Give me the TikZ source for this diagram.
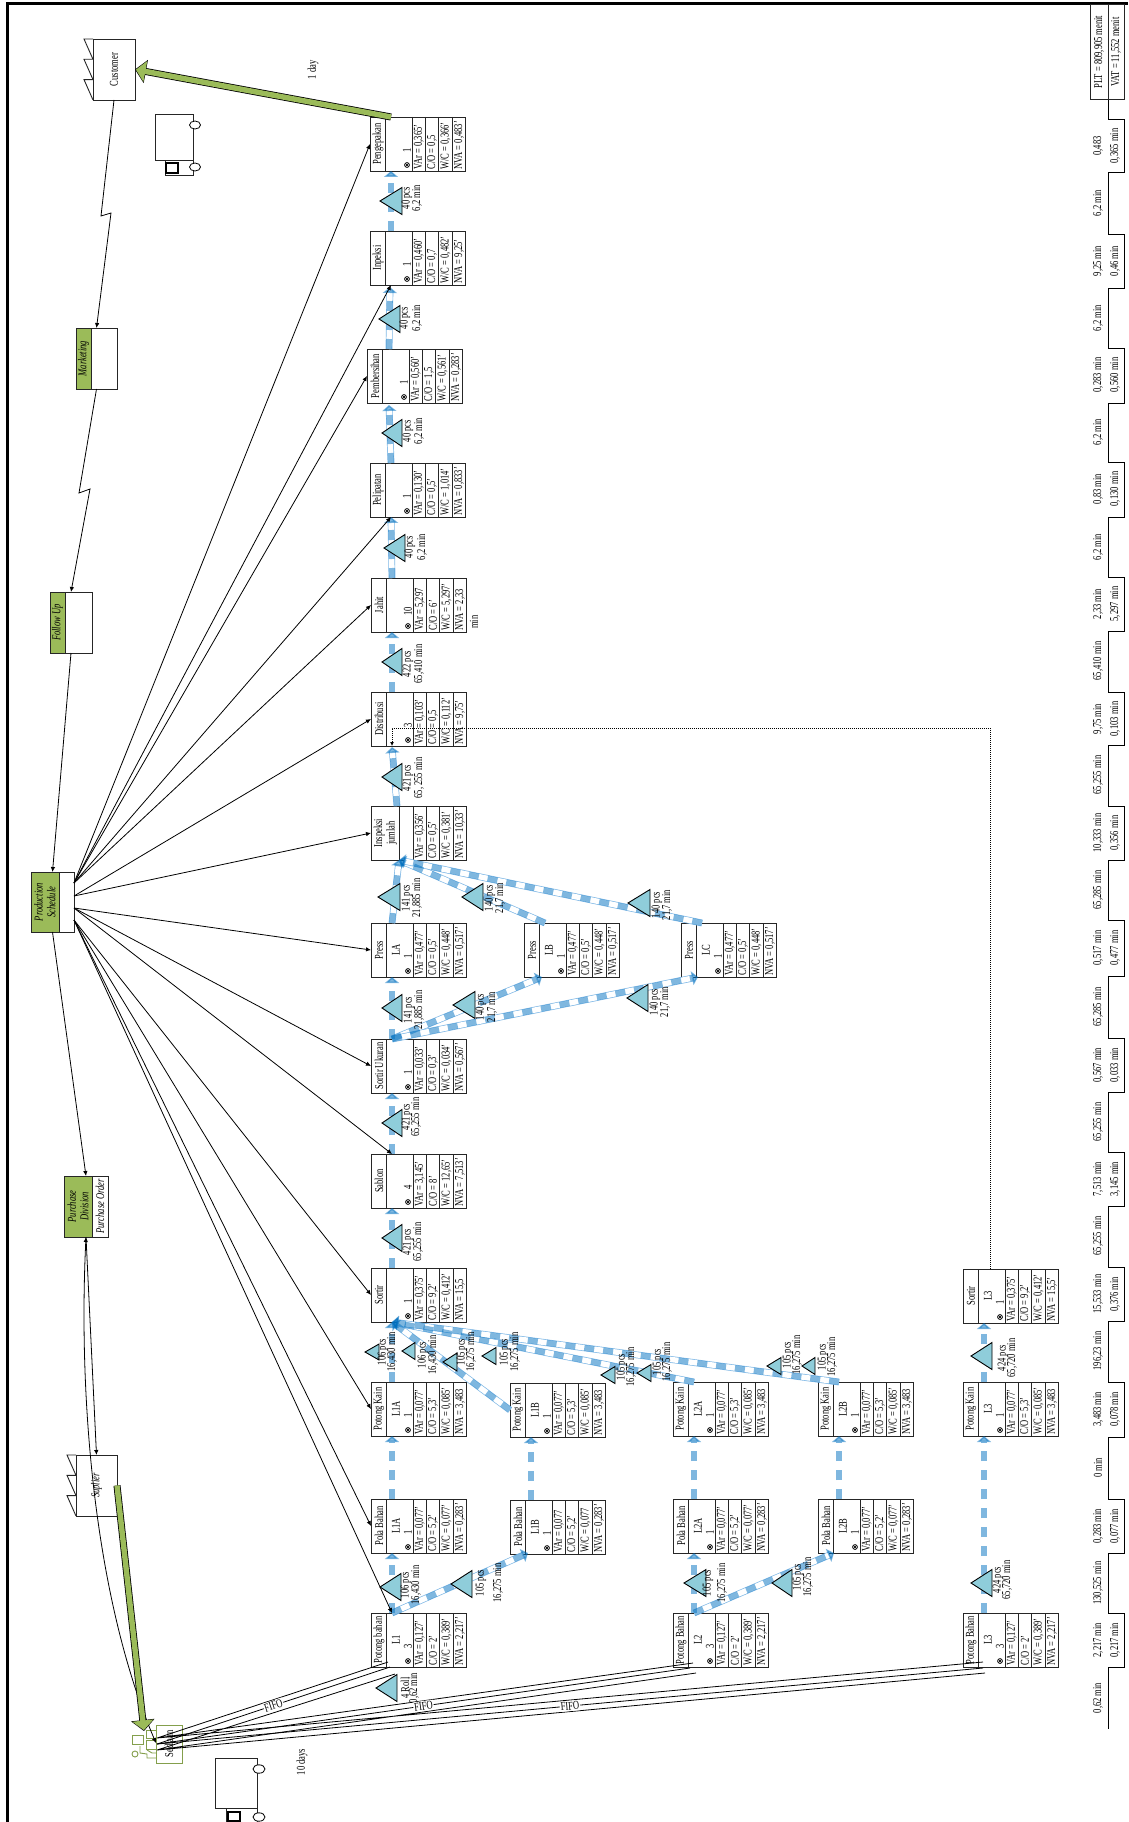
\documentclass[tikz,border=0pt]{standalone}
\usepackage{fontspec}
\setmainfont[FakeStretch=0.71]{Liberation Serif}
\usetikzlibrary{arrows.meta}
\definecolor{vsmgreen}{HTML}{9BBB59}
\definecolor{invfill}{HTML}{8FCDDA}
\definecolor{pushblue}{HTML}{0070C0}
\definecolor{pushedgec}{HTML}{7FB8E6}
\newcommand\fs{\fontsize{12}{12.7}\selectfont}
\newcount\lblc
\tikzset{
  every node/.style={font=\fs,inner sep=0pt,outer sep=0pt},
  rtext/.style={rotate=90,align=center},
  ltext/.style={rotate=90,anchor=west},
  boxline/.style={line width=0.9pt,draw=black!85},
  procshape/.style={boxline,fill=white,minimum width=95pt,minimum height=54pt},
  ctl/.style={line width=0.8pt,-{Latex[length=5pt,width=4.5pt]}},
  plain/.style={line width=0.8pt},
  invtri/.style={draw=black,line width=0.9pt,fill=invfill,line join=miter},
  pushedge/.style={line width=0.7pt,draw=pushedgec,double=white,double distance=5.4pt,shorten >=5pt},
  pushdash/.style={line width=6pt,color=pushblue,opacity=0.5,dash pattern=on 10pt off 9pt,-{Triangle[length=6pt,width=14pt]}},
  greenout/.style={line width=7pt,black,-{Triangle[length=11pt,width=23pt]}},
  greenin/.style={line width=5.4pt,vsmgreen,shorten >=0.9pt,-{Triangle[length=9.6pt,width=20.6pt]}},
  infowhite/.style={boxline,fill=white},
  infogreen/.style={boxline,fill=vsmgreen},
  factory/.style={boxline,fill=white},
  fifo/.style={sloped,fill=white,inner sep=1pt},
  sedline/.style={draw=vsmgreen!85!black,line width=0.9pt},
}
% optional: title width; name x y title name2 count
\newcommand\procbox[7][15]{%
  \begin{scope}[shift={(#3,#4)}]
  \node[procshape,name=#2] at (47.5,27) {};
  \coordinate (#2-t) at (21,0);
  \coordinate (#2-b) at (21,54);
  \coordinate (#2-l) at (0,27);
  \draw[boxline] (#1,0)--(#1,54) (42,0)--(42,54) (55,0)--(55,54) (68.5,0)--(68.5,54) (82,0)--(82,54);
  \node[rtext,name=#2-title] at ({#1/2+0.5},27) {#5};
  \node[rtext,name=#2-name] at (25,27) {#6};
  \if\relax\detokenize{#7}\relax\else
    \node[rtext,name=#2-count] at (37,33) {#7};
    \draw[line width=0.8pt] (37,48) circle (2.4pt);
    \fill (37,48) circle (1.3pt);
  \fi
  \def\curbox{#2}}
\newcommand\cells[4]{%
  \node[ltext,name=\curbox-var] at (48.8,52.5) {#1};
  \node[ltext,name=\curbox-co] at (62,52.5) {#2};
  \node[ltext,name=\curbox-wc] at (75.5,52.5) {#3};
  \node[ltext,name=\curbox-nva] at (89,52.5) {#4};
  \end{scope}}
% apex base cy half  x1 x2 ly text1 text2
\newcommand\inv[9]{%
  \draw[invtri] (#1,#3)--(#2,#3-#4)--(#2,#3+#4)--cycle;
  \global\advance\lblc by 1
  \node[rtext,name=il\the\lblc a] at (#5,#7) {#8};
  \node[rtext,name=il\the\lblc b] at (#6,#7) {#9};}
\newcommand\tu[2]{\global\advance\lblc by 1 \node[rtext,name=tu\the\lblc] at (1098,#1) {#2};}
\newcommand\tl[2]{\global\advance\lblc by 1 \node[rtext,name=tl\the\lblc] at (1115,#1) {#2};}
\newcommand\teeth[3]{% x(box left) ytop  depth
  \draw[boxline] (#1,#2) -- ++(-#3,0) -- ++(#3,20.3) -- ++(-#3,0) -- ++(#3,20.3) -- ++(-#3,0) -- ++(#3,20.4);}
\begin{document}
\begin{tikzpicture}[x=1pt,y=-1pt]
\useasboundingbox (0,0) rectangle (1128,1822);
\fill[white] (0,0) rectangle (1128,1822);
% frame
\draw[line width=3pt,black] (7,1822)--(7,4)--(1128,4);

% process boxes
\procbox{peng}{370}{117}{Pengepakan}{}{1}\cells{VAr = 0,365'}{C/O = 0,5}{W/C = 0,366'}{NVA = 0,483'}
\procbox{insp}{370}{231}{Inpeksi}{}{1}\cells{VAr = 0,460'}{C/O = 0,7}{W/C = 0,482'}{NVA = 9,25'}
\procbox{pemb}{367}{349}{Pembersihan}{}{1}\cells{VAr = 0,560'}{C/O = 1,5}{W/C = 0,561'}{NVA = 0,283'}
\procbox{peli}{370}{463}{Pelipatan}{}{1}\cells{VAr = 0,130'}{C/O = 0,5'}{W/C = 1,014'}{NVA = 0,833'}
\procbox{jahit}{371}{578}{Jahit}{}{10}\cells{VAr = 5,297}{C/O = 6'}{W/C = 5,297'}{NVA = 2,33}
\node[rtext,name=jahitmin] at (474,622) {min};
\procbox{dist}{371}{692}{Distribusi}{}{3}\cells{VAr = 0,103'}{C/O = 0,5}{W/C = 0,112'}{NVA = 9,75'}
\procbox[28]{ijum}{371}{806}{Inspeksi\\jumlah}{}{}\cells{VAr = 0,356'}{C/O = 0,5'}{W/C = 0,381'}{NVA = 10,33'}
\procbox{pla}{371}{923}{Press}{LA}{1}\cells{VAr = 0,477'}{C/O = 0,5'}{W/C = 0,448'}{NVA = 0,517'}
\procbox{plb}{524}{923}{Press}{LB}{1}\cells{VAr = 0,477'}{C/O = 0,5'}{W/C = 0,448'}{NVA = 0,517'}
\procbox{plc}{681}{923}{Press}{LC}{1}\cells{VAr = 0,477'}{C/O = 0,5'}{W/C = 0,448'}{NVA = 0,517'}
\procbox{suk}{371}{1039}{Sortir Ukuran}{}{1}\cells{VAr = 0,033'}{C/O = 0,3'}{W/C = 0,034'}{NVA = 0,567'}
\procbox{sab}{371}{1154}{Sablon}{}{4}\cells{VAr = 3,145'}{C/O = 8'}{W/C = 12,65'}{NVA = 7,513'}
\procbox{sor}{371}{1268}{Sortir}{}{1}\cells{VAr = 0,375'}{C/O = 9,2'}{W/C = 0,412'}{NVA = 15,5}
\procbox{kla}{371}{1382}{Potong Kain}{L1A}{1}\cells{VAr = 0,077'}{C/O = 5,3'}{W/C = 0,085'}{NVA = 3,483}
\procbox{kl1b}{510}{1383}{Potong Kain}{L1B}{1}\cells{VAr = 0,077'}{C/O = 5,3'}{W/C = 0,085'}{NVA = 3,483}
\procbox{kl2a}{673}{1382}{Potong Kain}{L2A}{1}\cells{VAr = 0,077'}{C/O = 5,3'}{W/C = 0,085'}{NVA = 3,483}
\procbox{kl2b}{818}{1382}{Potong Kain}{L2B}{1}\cells{VAr = 0,077'}{C/O = 5,3'}{W/C = 0,085'}{NVA = 3,483}
\procbox{kl3}{963}{1382}{Potong Kain}{L3}{1}\cells{VAr = 0,077'}{C/O = 5,3'}{W/C = 0,085'}{NVA = 3,483}
\procbox{pla1}{371}{1499}{Pola Bahan}{L1A}{1}\cells{VAr = 0,077'}{C/O = 5,2'}{W/C = 0,077'}{NVA = 0,283'}
\procbox{pl1b}{510}{1500}{Pola Bahan}{L1B}{1}\cells{VAr = 0,077}{C/O = 5,2'}{W/C = 0,077}{NVA = 0,283'}
\procbox{pl2a}{673}{1499}{Pola Bahan}{L2A}{1}\cells{VAr = 0,077'}{C/O = 5,2'}{W/C = 0,077'}{NVA = 0,283'}
\procbox{pl2b}{818}{1499}{Pola Bahan}{L2B}{1}\cells{VAr = 0,077'}{C/O = 5,2'}{W/C = 0,077'}{NVA = 0,283'}
\procbox{bl1}{371}{1613}{Potong bahan}{L1}{3}\cells{VAr = 0,127'}{C/O = 2'}{W/C = 0,389'}{NVA = 2,217'}
\procbox{bl2}{673}{1613}{Potong Bahan}{L2}{3}\cells{VAr = 0,127'}{C/O = 2'}{W/C = 0,389'}{NVA = 2,217'}
\procbox{bl3}{963}{1613}{Potong Bahan}{L3}{3}\cells{VAr = 0,127'}{C/O = 2'}{W/C = 0,389'}{NVA = 2,217'}
\procbox{sl3}{963}{1269}{Sortir}{L3}{1}\cells{VAr = 0,375'}{C/O = 9,2'}{W/C = 0,412'}{NVA = 15,5'}

% extra connector ends
\coordinate (in-l1b) at (528,1553);
\coordinate (in-l2b) at (834,1553);
\coordinate (in-lb) at (542,977);
\coordinate (in-lc) at (698,977);
\coordinate (ijin) at (399,860);
\coordinate (ijout) at (397,806);
\coordinate (distin) at (392,747);
\coordinate (pembin) at (389,405);
\coordinate (inpin) at (390,287);
\coordinate (pembout) at (389,349);

% push arrows
\def\pushlist{bl1-t/pla1-b,bl1-t/in-l1b,pla1-t/kla-b,pl1b-t/kl1b-b,kla-t/sor-b,kl1b-l/sor-b,kl2a-t/sor-b,kl2b-t/sor-b,bl2-t/pl2a-b,bl2-t/in-l2b,pl2a-t/kl2a-b,pl2b-t/kl2b-b,bl3-t/kl3-b,kl3-t/sl3-b,sor-t/sab-b,sab-t/suk-b,suk-t/pla-b,suk-t/in-lb,suk-t/in-lc,pla-t/ijin,plb-t/ijin,plc-t/ijin,ijout/distin,dist-t/jahit-b,jahit-t/peli-b,peli-t/pembin,pembout/inpin,insp-t/peng-b}
\foreach \a/\b in \pushlist {\draw[pushedge] (\a)--(\b);}
\foreach \a/\b in \pushlist {\draw[pushdash] (\a)--(\b);}

% inventory triangles and labels
\inv{365}{379}{1352}{8}{383}{392}{1352}{106 pcs}{16,430 min}
\inv{402}{415}{1351}{8.5}{423}{433}{1355}{106 pcs}{16,430 min}
\inv{443}{457}{1362}{9}{462}{471}{1352}{105 pcs}{16,275 min}
\inv{482}{496}{1356}{8.5}{505}{515}{1352}{105 pcs}{16,275 min}
\inv{601}{615}{1375}{8.5}{622}{631}{1367}{105 pcs}{16,275 min}
\inv{637}{651}{1373}{8.5}{658}{667}{1362}{105 pcs}{16,275 min}
\inv{767}{781}{1366}{8.5}{788}{797}{1355}{105 pcs}{16,275 min}
\inv{802}{815}{1366}{8.5}{823}{832}{1357}{105 pcs}{16,275 min}
\inv{380}{401}{1587}{13.5}{406}{416}{1585}{106 pcs}{16,430 min}
\inv{451}{472}{1584}{13.5}{481}{498}{1583}{105 pcs}{16,275 min}
\inv{376}{397}{1688}{13.5}{405}{414}{1688}{4 Roll}{0,62 min}
\inv{684}{706}{1583}{13.5}{708}{722}{1583}{105 pcs}{16,275 min}
\inv{772}{792}{1583}{13.5}{798}{808}{1577}{105 pcs}{16,275 min}
\inv{971}{992}{1356}{13.5}{1003}{1012}{1358}{424 pcs}{65,720 min}
\inv{971}{992}{1583}{13.5}{998}{1007}{1580}{424 pcs}{65,720 min}
\inv{382}{402}{1238}{13.5}{408}{418}{1242}{421 pcs}{65,255 min}
\inv{382}{402}{1123}{13.5}{407}{416}{1117}{421 pcs}{65,255 min}
\inv{382}{402}{1008}{13.5}{409}{419}{1010}{141 pcs}{21,885 min}
\inv{453}{475}{1005}{13.5}{481}{492}{1007}{140 pcs}{21,7 min}
\inv{627}{648}{998}{13.5}{655}{665}{1002}{140 pcs}{21,7 min}
\inv{378}{400}{897}{13.5}{407}{417}{898}{141 pcs}{21,885 min}
\inv{462}{483}{897}{13.5}{490}{500}{898}{140 pcs}{21,7 min}
\inv{628}{650}{903}{13.5}{657}{667}{905}{140 pcs}{21,7 min}
\inv{382}{402}{777}{13.5}{408}{419}{778}{421 pcs}{65, 255 min}
\inv{382}{402}{662}{13.5}{408}{419}{664}{422 pcs}{65,410 min}
\inv{384}{405}{548}{13.5}{410}{422}{547}{40 pcs}{6,2 min}
\inv{382}{402}{433}{13.5}{408}{419}{431}{40 pcs}{6,2 min}
\inv{379}{400}{319}{13.5}{405}{417}{318}{40 pcs}{6,2 min}
\inv{380}{402}{201}{13.5}{407}{417}{198}{40 pcs}{6,2 min}

% factories
\node[factory,minimum width=42pt,minimum height=61pt,name=customer] at (114,69.5) {\rotatebox{90}{Customer}};
\teeth{93}{39}{9}
\node[factory,minimum width=41pt,minimum height=61pt,name=suplier] at (96.5,1485.5) {\rotatebox{90}{\textit{Suplier}}};
\teeth{76}{1455}{9}

% information boxes
\node[infowhite,minimum width=41pt,minimum height=61pt,name=mkt] at (96.5,358.5) {};
\node[infogreen,minimum width=15pt,minimum height=61pt,name=mktg] at (83.5,358.5) {\rotatebox{90}{\textit{Marketing}}};
\node[infowhite,minimum width=42pt,minimum height=61pt,name=fup] at (71,622.5) {};
\node[infogreen,minimum width=15pt,minimum height=61pt,name=fupg] at (57.5,622.5) {\rotatebox{90}{\textit{Follow Up}}};
\node[infowhite,minimum width=43pt,minimum height=60pt,name=prod] at (52.5,902) {};
\node[infogreen,minimum width=28pt,minimum height=60pt,name=prodg] at (45,902) {\rotatebox{90}{\parbox{60pt}{\centering\fs\itshape Production\\Schedule}}};
\node[infowhite,minimum width=44pt,minimum height=61pt,name=purch] at (86,1206.5) {};
\node[infogreen,minimum width=28pt,minimum height=61pt,name=purchg] at (78,1206.5) {\rotatebox{90}{\parbox{60pt}{\centering\fs\itshape Purchase\\Division}}};
\node[rtext,font=\fs\itshape,name=purchord] at (100,1206.5) {Purchase Order};

% sediaan
\node[sedline,fill=white,minimum width=26pt,minimum height=38pt,name=sed] at (169,1744) {\rotatebox{90}{Sediaan}};
\draw[sedline] (146,1730) rectangle (156,1738) (146,1740) rectangle (156,1749) (132,1735) rectangle (143,1744);
\draw[sedline] (135,1754) circle (3pt);
\draw[sedline] (140,1746)--(140,1753)--(147,1754)--(147,1758)--(156,1758) (147,1750)--(152,1753)--(156,1753);

% fifo lines
\coordinate (sa) at (157,1738);
\coordinate (sb) at (157,1744);
\coordinate (sc) at (157,1750);
\coordinate (sd) at (156,1743);
\coordinate (f1a) at (388,1662);
\coordinate (f1b) at (390,1667);
\coordinate (f1c) at (395,1674);
\coordinate (f2a) at (693,1663);
\coordinate (f2b) at (690,1668);
\coordinate (f2c) at (696,1673);
\coordinate (f3a) at (983,1662);
\coordinate (f3b) at (983,1668);
\coordinate (f3c) at (985,1673);
\draw[plain] (sa)--(f1a) (sc)--(f1c) (sa)--(f2a) (sc)--(f2c) (sa)--(f3a) (sc)--(f3c);
\draw[plain] (sb)-- node[fifo,name=fifo1]{FIFO} (f1b);
\draw[plain] (sb)-- node[fifo,name=fifo2]{FIFO} (f2b);
\draw[plain] (sb)-- node[fifo,name=fifo3]{FIFO} (f3b);

% production control connectors
\coordinate (p1) at (74,883);
\coordinate (p2) at (74,896);
\coordinate (p3) at (74,908);
\coordinate (p4) at (74,920);
\draw[ctl] (p1)--(peng-l);
\draw[ctl] (p1)--(insp-b);
\draw[ctl] (p1)--(pemb-l);
\draw[ctl] (p1)--(peli-b);
\draw[ctl] (p1)--(jahit-l);
\draw[ctl] (p2)--(dist-l);
\draw[ctl] (p2)--(ijum-l);
\draw[ctl] (p3)--(pla-l);
\draw[ctl] (p3)--(suk-l);
\draw[ctl] (p3)--(sab-t);
\draw[ctl] (p4)--(sor-l);
\draw[ctl] (p4)--(kla-l);
\draw[ctl] (p4)--(pla1-l);
\draw[ctl] (p4)--(bl1-t);

% information flow
\coordinate (z1a) at (101,216);
\coordinate (z1b) at (111,213);
\coordinate (z2a) at (79,493);
\coordinate (z2b) at (90,489);
\draw[ctl] (customer.south)--(z1a)--(z1b)--(mkt.north);
\draw[ctl] (mkt.south)--(z2a)--(z2b)--(fup.north);
\draw[ctl] (fup.south)--(prod.north);
\draw[ctl] (prod.south)--(purch.north);
\draw[ctl] (purch.south)--(suplier.north);
\draw[line width=0.8pt,{Latex[length=5pt,width=4.5pt]}-{Latex[length=5pt,width=4.5pt]}] (purch.south) .. controls (78,1400) and (95,1600) .. (sd);

% green shipments
\coordinate (shipsed) at (144,1731);
\coordinate (pengout) at (391,117);
\draw[greenout] (suplier.east)--(shipsed);
\draw[greenin] (suplier.east)--(shipsed);
\draw[greenout] (pengout)--(customer.east);
\draw[greenin] (pengout)--(customer.east);

% dotted withdrawal
\coordinate (dbend) at (392,728);
\coordinate (dcorner) at (990,728);
\draw[line width=1pt,densely dotted,-{Latex[length=4pt,width=4pt]}] (sl3-t -| dcorner)--(dcorner)--(dbend)--(dist-t |- 0,746);

% trucks
\draw[boxline,fill=white] (155,114) rectangle (193,160);
\draw[boxline,fill=white] (165,160) rectangle (193,175);
\draw[line width=1.3pt] (166,163) rectangle (178,173);
\draw[line width=0.8pt,fill=white] (195,125) ellipse (5.5pt and 4pt);
\draw[line width=0.8pt,fill=white] (195,167) ellipse (5.5pt and 4pt);
\draw[boxline,fill=white] (215,1758) rectangle (257,1808);
\draw[boxline,fill=white] (226,1808) rectangle (257,1823);
\draw[line width=1.1pt] (228,1812) rectangle (240,1821);
\draw[line width=0.8pt,fill=white] (259,1769) ellipse (6pt and 4.2pt);
\draw[line width=0.8pt,fill=white] (259,1817) ellipse (6pt and 4.2pt);
\node[rtext,name=oneday] at (313,70) {1 day};
\node[rtext,name=tendays] at (302,1762) {10 days};

% timeline
\draw[line width=1pt] (1108,99.5)--(1108,120)--(1124,120)--(1124,173)--(1108,173)--(1108,234)--(1124,234)--(1124,288)--(1108,288)--(1108,348)--(1124,348)--(1124,403)--(1108,403)--(1108,462)--(1124,462)--(1124,517)--(1108,517)--(1108,577)--(1124,577)--(1124,631)--(1108,631)--(1108,692)--(1124,692)--(1124,745.5)--(1108,745.5)--(1108,806)--(1124,806)--(1124,860)--(1108,860)--(1108,920)--(1124,920)--(1124,976)--(1108,976)--(1108,1038)--(1124,1038)--(1124,1092)--(1108,1092)--(1108,1152)--(1124,1152)--(1124,1206)--(1108,1206)--(1108,1267)--(1124,1267)--(1124,1321)--(1108,1321)--(1108,1382)--(1124,1382)--(1124,1437)--(1108,1437)--(1108,1499)--(1124,1499)--(1124,1553)--(1108,1553)--(1108,1613.5)--(1124,1613.5)--(1124,1667)--(1108,1667)--(1108,1729);
\node[boxline,minimum width=34pt,minimum height=94.5pt,name=sumbox] at (1107,52.2) {};
\draw[boxline] (1108,5)--(1108,99.5);
\node[rtext,name=plt] at (1099,52) {PLT = 809,905 menit};
\node[rtext,name=vat] at (1116,52) {VAT = 11,552 menit};
\tu{146}{0,483}\tl{146}{0,365 min}
\tu{203}{6,2 min}
\tu{261}{9,25 min}\tl{261}{0,46 min}
\tu{318}{6,2 min}
\tu{375}{0,283 min}\tl{375}{0,560 min}
\tu{432}{6,2 min}
\tu{489}{0,83 min}\tl{489}{0,130 min}
\tu{547}{6,2 min}
\tu{604}{2,33 min}\tl{604}{5,297 min}
\tu{661}{65,410 min}
\tu{719}{9,75 min}\tl{719}{0,103 min}
\tu{775}{65,255 min}
\tu{833}{10,333 min}\tl{833}{0,356 min}
\tu{890}{65,285 min}
\tu{948}{0,517 min}\tl{948}{0,477 min}
\tu{1007}{65,285 min}
\tu{1065}{0,567 min}\tl{1065}{0,033 min}
\tu{1122}{65,255 min}
\tu{1179}{7,513 min}\tl{1179}{3,145 min}
\tu{1236}{65,255 min}
\tu{1294}{15,533 min}\tl{1294}{0,376 min}
\tu{1351}{196,23 min}
\tu{1409}{3,483 min}\tl{1409}{0,078 min}
\tu{1468}{0 min}
\tu{1526}{0,283 min}\tl{1526}{0,077 min}
\tu{1583}{130,525 min}
\tu{1640}{2,217 min}\tl{1640}{0,217 min}
\tu{1698}{0,62 min}
\end{tikzpicture}
\end{document}
